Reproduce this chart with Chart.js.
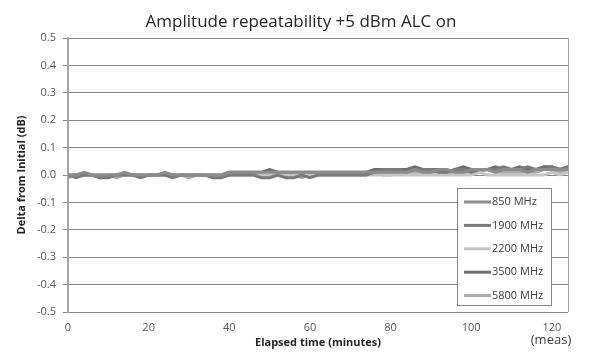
<!DOCTYPE html>
<html>
<head>
<meta charset="utf-8">
<script src="https://cdn.jsdelivr.net/npm/chart.js@4.4.1/dist/chart.umd.min.js"></script>
<style>
  html, body { margin: 0; padding: 0; background: #fff; }
  #wrap { width: 590px; height: 352px; }
</style>
</head>
<body>
<div id="wrap"><canvas id="mychart"></canvas></div>
<script>
// elapsed time, minutes (one reading every 2 minutes)
const times = [0,2,4,6,8,10,12,14,16,18,20,22,24,26,28,30,32,34,36,38,40,
  42,44,46,48,50,52,54,56,58,60,62,64,66,68,70,72,74,76,78,80,
  82,84,86,88,90,92,94,96,98,100,102,104,106,108,110,112,114,116,118,120,122,124];

// delta from initial, dB
const mhz850 = [0,0,0.01,0,0,0,0,0.01,0,0,0,0,0.01,0,0,0,0,0,0,0,0.01,
  0.01,0.01,0.01,0.01,0.01,0.01,0.01,0.01,0.01,0.01,0.01,0.01,0.01,0.01,0.01,0.01,0.01,0.01,0.01,0.01,
  0.01,0.01,0.02,0.01,0.01,0.02,0.02,0.01,0.01,0.02,0.02,0.02,0.01,0.02,0.02,0.02,0.01,0.02,0.02,0.02,0.02,0.02];
const mhz1900 = [0,-0.01,0,0,-0.01,-0.01,0,0,0,-0.01,0,0,0,-0.01,0,0,0,0,-0.01,-0.01,0,
  0,0,0,-0.01,-0.01,0,-0.01,-0.01,0,-0.01,0,0,0,0,0,0,0,0.01,0.02,0.02,
  0.02,0.01,0.02,0.02,0.02,0.01,0.01,0.02,0.02,0.01,0.02,0.02,0.02,0.03,0.02,0.02,0.03,0.02,0.02,0.03,0.02,0.03];
const mhz2200 = [0,0,0,0,0,0,0,0,0,0,0,0,0,0,0,0,0,0,0,0,0,
  0,0,0,0,0,0,0,0,0,0,0,0,0,0,0,0,0,0,0,0,
  0,0,0,0,0,0,0,0,0,0,0.01,0,0,0,0,0,0,0,0,0.01,0,0.01];
const mhz3500 = [0,0,0,0,-0.01,0,0,0,0,0,0,0,0,0,0,0,0,0,0,0,0.01,
  0.01,0.01,0.01,0.01,0.02,0.01,0.01,0.01,0.01,0.01,0.01,0.01,0.01,0.01,0.01,0.01,0.01,0.02,0.02,0.02,
  0.02,0.02,0.03,0.02,0.02,0.02,0.01,0.02,0.03,0.02,0.02,0.02,0.03,0.02,0.02,0.03,0.02,0.02,0.03,0.03,0.02,0.03];
const mhz5800 = [-0.01,0,0,0,0,0,-0.01,0,0,0,0,0,0,0,0,-0.01,0,0,0,0,0,
  0,0,0,0,0,0,0,0,-0.01,0,0,0,0,0,0,0,0,0.01,0,0,
  0.01,0.01,0.01,0.01,0.01,0.01,0.01,0.01,0.01,0.01,0.01,0.02,0.01,0.01,0.01,0.01,0.01,0.01,0.02,0.02,0.01,0.02];

const seriesNames = ['850 MHz', '1900 MHz', '2200 MHz', '3500 MHz', '5800 MHz'];
const seriesValues = [mhz850, mhz1900, mhz2200, mhz3500, mhz5800];
const seriesColors = ['#8c8c8c', '#7a7a7a', '#c4c4c4', '#6f6f6f', '#a9a9a9'];
const xTicks = [0, 20, 40, 60, 80, 100, 120];

const FONT = '"Open Sans", "Noto Sans", sans-serif';

function toPoints(vals) {
  return vals.map((v, i) => ({ x: times[i], y: v }));
}

// title, right border, "(meas)" note and the boxed legend
const extras = {
  id: 'extras',
  afterDraw(chart) {
    const c = chart.ctx;
    const a = chart.chartArea;
    c.save();
    // right border of plot area
    c.strokeStyle = '#a0a0a0';
    c.lineWidth = 1;
    c.beginPath();
    c.moveTo(Math.round(a.right) + 0.5, a.top);
    c.lineTo(Math.round(a.right) + 0.5, a.bottom);
    c.stroke();

    c.fillStyle = '#262626';
    c.font = '17px ' + FONT;
    c.textAlign = 'center';
    c.textBaseline = 'alphabetic';
    c.fillText('Amplitude repeatability +5 dBm ALC on', 301, 27);

    c.fillStyle = '#404040';
    c.font = '13px ' + FONT;
    c.fillText('(meas)', 551, 344);

    // legend
    const lx = 457.5, ly = 188.5, lw = 94, lh = 117;
    c.fillStyle = '#fff';
    c.fillRect(lx, ly, lw, lh);
    c.strokeStyle = '#8a8a8a';
    c.strokeRect(lx, ly, lw, lh);
    c.font = '11px ' + FONT;
    c.textAlign = 'left';
    c.textBaseline = 'middle';
    chart.data.datasets.forEach((ds, i) => {
      const yy = 202 + i * 23.4;
      c.strokeStyle = ds.borderColor;
      c.lineWidth = 3;
      c.beginPath();
      c.moveTo(464, yy);
      c.lineTo(491, yy);
      c.stroke();
      c.fillStyle = '#404040';
      c.fillText(ds.label, 492, yy);
    });
    c.restore();
  }
};

const ctx = document.getElementById('mychart');
const chart = new Chart(ctx, {
  type: 'line',
  data: {
    datasets: seriesNames.map((name, i) => ({
      label: name,
      data: toPoints(seriesValues[i]),
      borderColor: seriesColors[i],
      backgroundColor: seriesColors[i],
      borderWidth: 3,
      pointRadius: 0,
      tension: 0
    }))
  },
  options: {
    responsive: true,
    maintainAspectRatio: false,
    animation: false,
    layout: { padding: { top: 38, left: 0, right: 22, bottom: 0 } },
    plugins: {
      legend: { display: false },
      title: { display: false },
      tooltip: { enabled: false }
    },
    scales: {
      x: {
        type: 'linear',
        min: 0,
        max: 124,
        afterBuildTicks: axis => { axis.ticks = xTicks.map(v => ({ value: v })); },
        afterFit: axis => { axis.height = 40; },
        grid: { display: false },
        border: { display: false },
        ticks: { color: '#595959', font: { family: FONT, size: 11 }, padding: 1, maxRotation: 0 },
        title: {
          display: true,
          text: 'Elapsed time (minutes)',
          color: '#262626',
          font: { family: FONT, size: 11, weight: 'bold' },
          padding: { top: 2, bottom: 3 }
        }
      },
      y: {
        min: -0.5,
        max: 0.5,
        afterFit: axis => { axis.width = 68; },
        ticks: {
          stepSize: 0.1,
          color: '#595959',
          font: { family: FONT, size: 11 },
          padding: 7,
          callback: v => v.toFixed(1)
        },
        grid: { color: '#878787', lineWidth: 1, tickLength: 5 },
        border: { display: true, color: '#a6a6a6', width: 2 },
        title: {
          display: true,
          text: 'Delta from Initial (dB)',
          color: '#262626',
          font: { family: FONT, size: 11, weight: 'bold' },
          padding: { top: 15, bottom: 2 }
        }
      }
    }
  },
  plugins: [extras]
});
</script>
</body>
</html>
